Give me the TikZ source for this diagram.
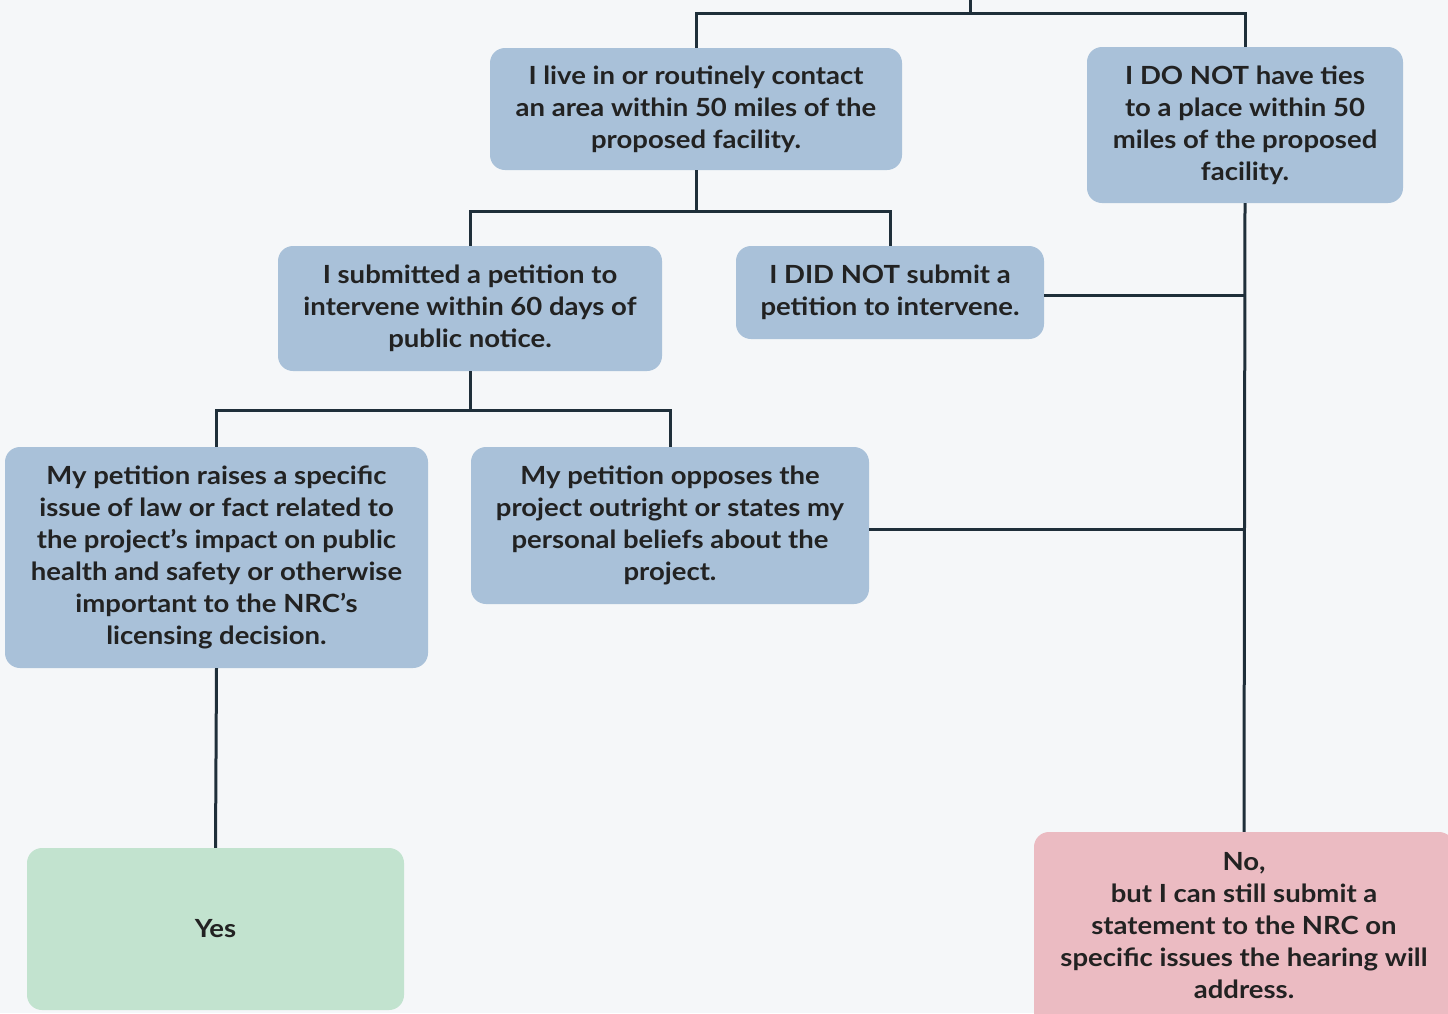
\documentclass[tikz,border=0pt]{standalone}
\usepackage{fontspec}
\setmainfont{Lato}[FakeStretch=1.1]
\begin{document}
\begin{tikzpicture}[x=1pt,y=-1pt,
  every node/.style={font=\fontsize{25}{32}\selectfont\bfseries, text=txt, align=center},
  box/.style={rounded corners=15pt, inner sep=0pt},
  blue/.style={box, fill=boxblue},
  link/.style={draw=lnk, line width=3pt}]
\definecolor{bg}{HTML}{F5F7F9}
\definecolor{boxblue}{HTML}{A9C1D9}
\definecolor{boxgreen}{HTML}{C2E3CF}
\definecolor{boxpink}{HTML}{EBBBC2}
\definecolor{lnk}{HTML}{1F2F3A}
\definecolor{txt}{HTML}{222222}
\fill[bg] (0,0) rectangle (1448,1013);
\useasboundingbox (0,0) rectangle (1448,1013);

\node[blue, minimum width=412pt, minimum height=122pt] (A) at (696,109) {I live in or routinely contact\\an area within 50 miles of the\\proposed facility.};
\node[blue, minimum width=316pt, minimum height=156pt] (B) at (1245,125) {I DO NOT have ties\\to a place within 50\\miles of the proposed\\facility.};
\node[blue, minimum width=384pt, minimum height=125pt] (C) at (470,308.5) {I submitted a petition to\\intervene within 60 days of\\public notice.};
\node[blue, minimum width=308pt, minimum height=93pt] (D) at (890,292.5) {I DID NOT submit a\\petition to intervene.};
\node[blue, minimum width=423pt, minimum height=221pt] (E) at (216.5,557.5) {My petition raises a specific\\issue of law or fact related to\\the project's impact on public\\health and safety or otherwise\\important to the NRC's\\licensing decision.};
\node[blue, minimum width=398pt, minimum height=157pt] (F) at (670,525.5) {My petition opposes the\\project outright or states my\\personal beliefs about the\\project.};
\node[box, fill=boxgreen, minimum width=377pt, minimum height=162pt] (G) at (215.5,929) {Yes};
\node[box, fill=boxpink, minimum width=420pt, minimum height=200pt] (H) at (1244,932) {};
\node[anchor=north] (Ht) at (1244,849) {No,\\but I can still submit a\\statement to the NRC on\\specific issues the hearing will\\address.};

\coordinate (top) at (970,0);
\coordinate (j0) at (970,13);
\draw[link] (top) -- (j0);
\draw[link] (A.north) |- (j0) -| (B.north);
\draw[link] (A.south) -- ++(0,41) coordinate (j1);
\draw[link] (C.north) |- (j1) -| (D.north);
\draw[link] (C.south) -- ++(0,39) coordinate (j2);
\draw[link] (E.north) |- (j2) -| (F.north);
\draw[link] (E.south) -- (G.north);
\draw[link] (B.south) -- (H.north);
\draw[link] ([yshift=-2.5pt]D.east) -- ([yshift=-2.5pt]D.east -| B.south);
\draw[link] ([yshift=-3.5pt]F.east) -- ([yshift=-3.5pt]F.east -| B.south);
\end{tikzpicture}
\end{document}
